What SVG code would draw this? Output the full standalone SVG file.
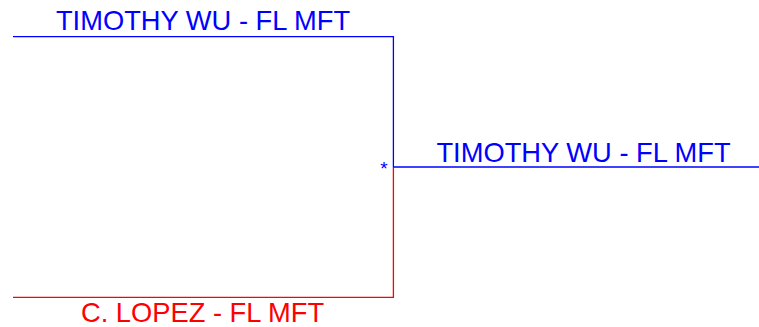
<svg xmlns="http://www.w3.org/2000/svg" width="759" height="327" viewBox="0 0 759 327">
<style>
.t{font-family:"Liberation Sans",Arial,sans-serif;font-size:27.3px;text-anchor:middle}
.b{fill:#0000ff}.r{fill:#ff0000}
.lb{stroke:#0000ff;stroke-width:1.3;fill:none}
.lr{stroke:#ff0000;stroke-width:1.3;fill:none}
</style>
<rect width="759" height="327" fill="#ffffff"/>
<g id="connectors">
<polyline class="lb" points="13,36.7 393.4,36.7 393.4,167"/>
<polyline class="lr" points="13,297.3 393.4,297.3 393.4,167"/>
<line class="lb" x1="393.4" y1="167" x2="759" y2="167"/>
</g>
<g id="node-timothy-top"><text class="t b" x="203" y="30">TIMOTHY WU - FL MFT</text></g>
<g id="node-timothy-right"><text class="t b" x="583.5" y="161.5">TIMOTHY WU - FL MFT</text></g>
<g id="node-lopez"><text class="t r" x="202.5" y="322">C. LOPEZ - FL MFT</text></g>
<g id="junction"><text x="384" y="175" font-family="Liberation Sans,Arial,sans-serif" font-size="19" fill="#0000ff" text-anchor="middle">*</text></g>
</svg>
